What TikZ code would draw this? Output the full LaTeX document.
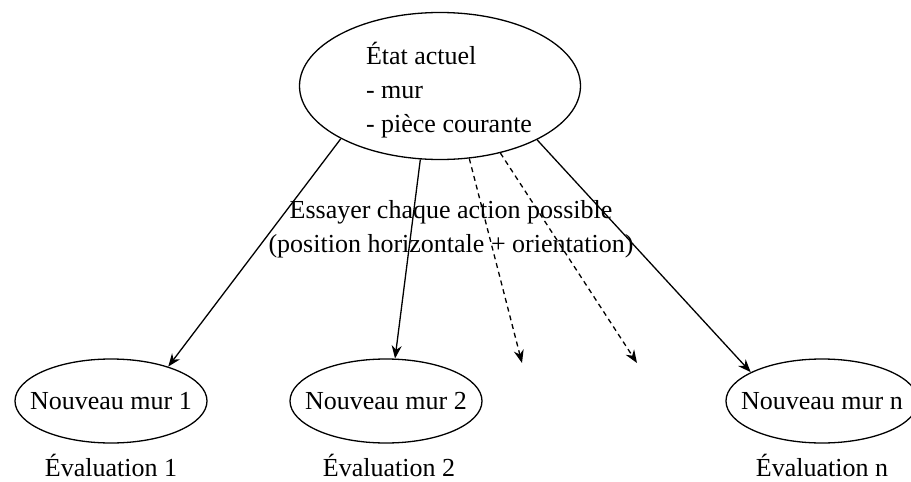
\documentclass[tikz,border=0pt]{standalone}
\usepackage{fontspec}
\setmainfont{Liberation Serif}
\usetikzlibrary{shapes.geometric,arrows.meta}
\begin{document}
\begin{tikzpicture}[x=1pt, y=-1pt, line width=1.3pt, font=\fontsize{26}{34}\selectfont,
    >={Stealth[length=13pt,width=10pt]},
    etat/.style = {draw, ellipse, minimum width=281pt, minimum height=147pt},
    mur/.style = {draw, ellipse, minimum width=192pt, minimum height=84pt, inner xsep=-13pt, inner ysep=0pt}]
    \useasboundingbox (0,0) rectangle (911,482);
    % Dessine les noeuds

    \node[etat] (0) at (440,86) {};
    \node[align=left] (t) at (449,90) {État actuel\\- mur\\- pièce courante};
    \node[mur] (1) at (111,401) {Nouveau mur 1};
    \node[mur] (2) at (386,401) {Nouveau mur 2};
    \node[mur] (n) at (822,401) {Nouveau mur n};
    \node[anchor=base] (e1) at (111,476) {Évaluation 1};
    \node[anchor=base] (e2) at (389,476) {Évaluation 2};
    \node[anchor=base] (en) at (822,476) {Évaluation n};
    \coordinate (d1) at (522,363);
    \coordinate (d2) at (637,363);

    \draw[->] (0.208.6) to (1.31);
    \draw[->] (0.255.6) to (2.78);
    \draw[->, dash pattern=on 5pt off 4pt] (0.292) to (d1);
    \draw[->, dash pattern=on 5pt off 4pt] (0.312.8) to (d2);
    \draw[->] (0.331.4) to (n.158.6);

    \node[align=center] (a) at (451,229) {Essayer chaque action possible\\(position horizontale + orientation)};

\end{tikzpicture}
\end{document}
